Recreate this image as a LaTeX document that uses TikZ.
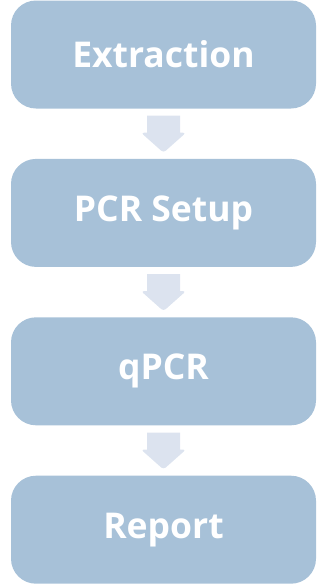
\documentclass[tikz,border=0pt]{standalone}
\usepackage{fontspec}
\setmainfont{Open Sans}
\usetikzlibrary{positioning, calc}

\definecolor{stageblue}{HTML}{A7C1D8}
\definecolor{flowblue}{HTML}{DCE3EF}

\begin{document}
\begin{tikzpicture}[
		x=1pt, y=1pt,
		node distance=50pt,
		stage/.style={fill=stageblue, rounded corners=25pt, minimum width=305pt, minimum height=108pt, inner sep=0pt, text=white, font=\bfseries\fontsize{35.5}{40}\selectfont},
		flow/.style={fill=flowblue}
		]
		\useasboundingbox (0,0) rectangle (320,-584);
		% the four stages
		\node[stage] at (163.5,-54.5) (extract) {Extraction};
		\node[stage, below = of extract] (setup) {PCR Setup};
		\node[stage, below = of setup] (qpcr) {qPCR};
		\node[stage, below = of qpcr] (report) {Report};
		
		% block arrows between the stages
		\foreach \from/\to in {extract/setup, setup/qpcr, qpcr/report}{
			\fill[flow] ($(\from.south)+(-16.5,-7)$) -- ++(0,-17)
			[rounded corners=3pt] -- ++(-6,0) -- ($(\to.north)+(0,6)$) -- ($(\from.south)+(22.5,-24)$)
			[sharp corners] -- ++(-6,0) -- ++(0,17) -- cycle;
		}
	\end{tikzpicture}
\end{document}
